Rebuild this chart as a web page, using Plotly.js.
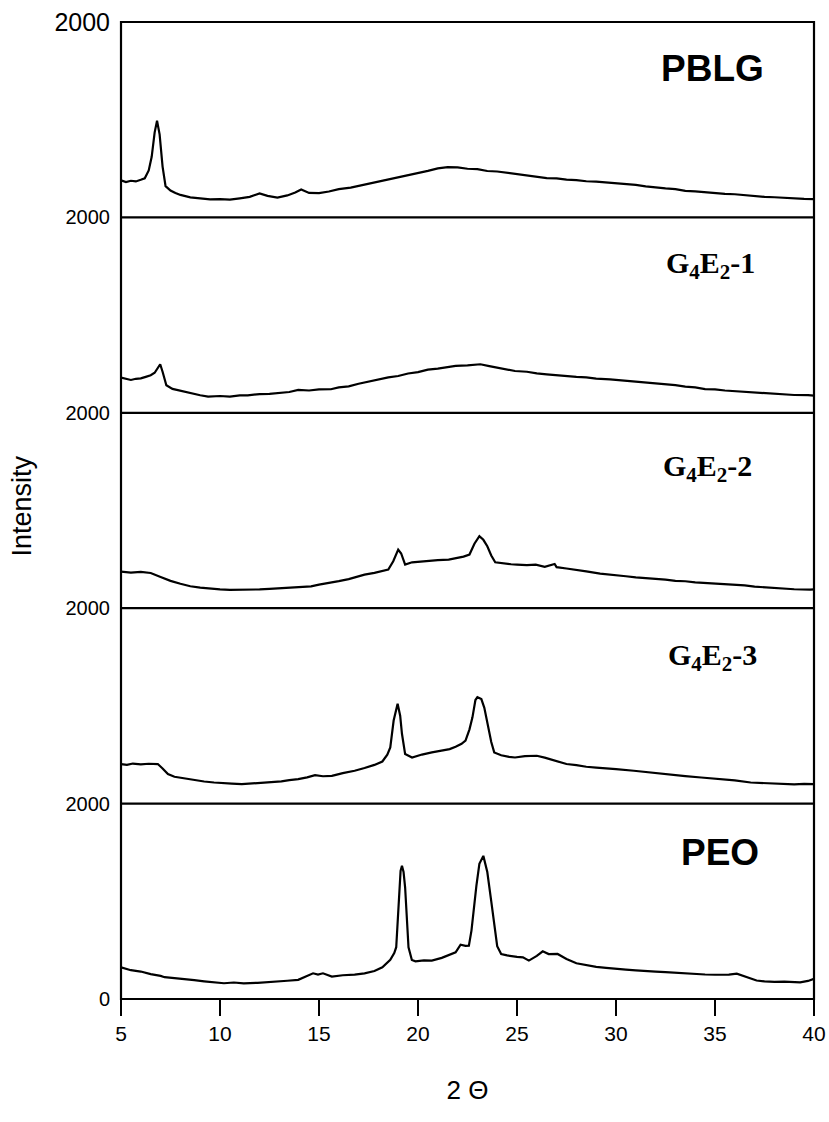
<!DOCTYPE html>
<html>
<head>
<meta charset="utf-8">
<script src="https://cdn.plot.ly/plotly-3.0.1.min.js"></script>
<style>html,body{margin:0;padding:0;background:#fff;}#chart{width:829px;height:1122px;}</style>
</head>
<body>
<div id="chart"></div>
<script>
// ---- data (2 theta vs intensity, each panel 0..2000) ----
const xTicks = [5, 10, 15, 20, 25, 30, 35, 40];
const seriesNames = ["PBLG", "G<sub>4</sub>E<sub>2</sub>-1", "G<sub>4</sub>E<sub>2</sub>-2", "G<sub>4</sub>E<sub>2</sub>-3", "PEO"];

const pblgX = [5.0,5.25,5.5,5.75,6.0,6.2,6.4,6.55,6.7,6.82,6.95,7.1,7.25,7.5,7.75,8.0,8.5,9.0,9.5,10.0,10.5,11.0,11.5,12.0,12.4,12.9,13.4,13.8,14.1,14.5,15.0,15.5,16.0,16.6,17.0,17.5,18.0,18.5,19.0,19.5,20.0,20.5,21.0,21.5,22.0,22.5,23.0,23.5,24.0,24.6,25.0,25.5,26.0,26.5,27.0,27.5,28.0,28.5,29.0,29.7,30.0,30.5,31.0,31.5,32.0,32.5,33.0,33.5,34.0,34.5,35.0,35.5,36.0,36.5,37.0,37.5,38.0,38.5,39.0,39.5,40.0];
const pblgY = [380,362,375,368,385,400,480,620,870,990,850,520,320,275,250,230,205,192,185,188,182,195,210,245,220,203,225,255,285,250,248,265,290,305,322,345,370,392,410,432,455,476,502,515,512,498,494,475,470,455,442,426,420,403,400,386,382,370,366,355,350,336,332,318,306,297,290,271,266,256,251,240,237,226,221,210,206,198,197,189,188];

const g1X = [5.0,5.25,5.5,5.75,6.0,6.25,6.5,6.7,6.85,6.98,7.1,7.29,7.6,8.0,8.2,8.6,9.0,9.4,10.0,10.5,11.0,11.4,12.0,12.5,13.0,13.5,13.95,14.5,15.0,15.6,16.0,16.5,17.0,17.3,17.8,18.5,19.0,19.5,20.0,20.5,21.0,21.5,21.9,22.5,23.15,23.6,24.0,24.5,24.9,25.5,26.0,26.5,27.0,27.5,28.0,28.5,29.0,29.7,30.0,30.5,31.0,31.5,32.0,32.5,33.0,33.5,34.0,34.5,35.0,35.5,35.9,36.5,37.0,37.5,38.0,38.5,39.0,39.7,40.0];
const g1Y = [360,345,336,348,352,368,384,410,460,497,420,282,245,225,213,195,180,166,172,166,178,179,192,194,207,213,234,228,240,241,260,270,297,310,338,362,377,402,416,442,453,467,480,486,497,478,462,443,428,420,403,394,383,378,368,362,350,343,338,323,320,308,302,290,284,268,260,243,240,228,223,214,203,200,190,188,182,180,176];

const g2X = [5.0,5.5,6.0,6.5,7.0,7.5,8.0,8.5,9.0,9.5,10.0,10.5,11.0,11.5,12.0,12.5,13.0,13.5,14.0,14.6,15.0,15.5,16.0,16.5,17.0,17.3,17.8,18.2,18.5,18.75,19.0,19.15,19.35,19.7,20.0,20.5,21.0,21.55,22.0,22.3,22.6,22.85,23.1,23.3,23.5,23.7,23.9,24.3,24.7,25.0,25.5,25.95,26.4,26.9,27.0,27.5,28.0,28.5,29.2,29.7,30.0,30.5,31.0,31.5,32.0,32.5,33.0,33.5,34.0,34.5,35.0,35.9,36.5,37.0,37.5,38.0,38.5,39.0,39.8,40.0];
const g2Y = [375,365,372,360,320,280,250,225,210,200,192,188,190,185,192,198,203,212,218,224,242,256,277,298,327,344,362,378,395,480,600,560,446,470,476,484,492,498,512,528,549,660,737,700,634,540,470,457,450,446,440,446,424,453,420,406,388,377,354,346,337,327,316,310,298,293,280,276,264,259,249,241,233,221,214,204,201,194,190,192];

const g3X = [5.0,5.3,5.6,6.0,6.4,6.86,7.1,7.37,7.7,8.2,8.7,9.2,9.7,10.2,10.6,11.1,11.6,12.1,12.6,13.1,13.5,13.95,14.4,14.8,15.2,15.65,16.2,16.8,17.3,17.8,18.2,18.45,18.6,18.77,18.97,19.1,19.19,19.35,19.7,20.2,20.7,21.2,21.6,21.9,22.2,22.4,22.6,22.75,22.9,23.0,23.2,23.35,23.5,23.7,23.85,24.2,24.6,24.9,25.4,26.0,26.4,26.9,27.5,28.0,28.5,29.0,29.5,30.0,30.9,31.5,32.0,32.5,33.0,33.5,34.3,35.0,35.5,36.0,36.8,37.5,38.0,38.5,39.0,39.5,39.9,40.0];
const g3Y = [405,396,410,402,408,405,360,302,275,257,241,226,216,207,205,199,206,209,219,227,240,250,268,291,280,284,312,336,364,396,431,500,575,850,1021,900,715,507,472,502,524,546,558,582,612,644,760,883,1060,1089,1070,980,815,630,524,495,478,472,486,490,470,440,405,393,377,369,358,352,336,323,309,301,289,281,267,256,249,238,216,209,204,203,197,201,199,200];

const peoX = [5.0,5.2,5.5,6.0,6.5,7.0,7.2,7.7,8.2,8.7,9.2,9.7,10.2,10.7,11.2,11.9,12.4,12.9,13.4,13.95,14.3,14.7,14.95,15.2,15.65,16.2,16.8,17.3,17.8,18.2,18.6,18.8,18.9,19.05,19.12,19.19,19.27,19.35,19.45,19.52,19.69,19.87,20.3,20.7,21.2,21.6,21.9,22.15,22.4,22.57,22.7,22.95,23.1,23.3,23.5,23.7,23.85,24.0,24.2,24.5,25.0,25.3,25.6,26.0,26.3,26.6,27.05,27.5,28.0,28.5,29.0,29.5,30.0,30.5,31.0,31.5,32.0,32.5,33.0,33.5,34.0,34.5,35.0,35.7,36.1,36.4,36.8,37.1,37.5,38.0,38.5,39.0,39.3,39.7,40.0];
const peoY = [325,312,295,281,254,236,223,214,206,193,181,170,161,169,160,166,171,182,187,196,226,263,250,263,230,243,249,263,286,325,400,470,530,1000,1312,1363,1300,1141,800,529,400,386,396,393,421,454,478,556,544,546,700,1160,1384,1465,1300,1000,780,540,461,446,431,427,393,441,488,460,461,410,366,346,329,319,308,301,294,291,281,275,268,262,259,251,248,250,260,240,210,189,181,175,178,171,170,185,206];

const panelX = [pblgX, g1X, g2X, g3X, peoX];
const panelY = [pblgY, g1Y, g2Y, g3Y, peoY];

// ---- figure ----
const traces = panelX.map((xs, i) => ({
  x: xs, y: panelY[i], type: "scatter", mode: "lines",
  xaxis: "x", yaxis: i === 0 ? "y" : "y" + (i + 1),
  line: {color: "#000", width: 2.2}, hoverinfo: "skip", showlegend: false
}));

const sans = "Arial, 'Liberation Sans', sans-serif";
const serif = "'Times New Roman', 'Liberation Serif', serif";

const layout = {
  width: 829, height: 1122,
  margin: {l: 121, r: 15, t: 22, b: 123},
  paper_bgcolor: "#fff", plot_bgcolor: "#fff",
  showlegend: false,
  font: {family: sans, color: "#000"},
  xaxis: {
    range: [5, 40], anchor: "y5", tickmode: "array", tickvals: xTicks,
    ticks: "outside", ticklen: 16, tickwidth: 1.6, tickcolor: "#000",
    showgrid: false, zeroline: false, showline: false,
    tickfont: {family: sans, size: 21, color: "#000"},
    title: {text: "2 \u0398", font: {family: sans, size: 26, color: "#000"}, standoff: 36}
  },
  shapes: [],
  annotations: []
};

for (let i = 0; i < 5; i++) {
  const key = i === 0 ? "yaxis" : "yaxis" + (i + 1);
  const lo = (4 - i) * 0.2, hi = lo + 0.2;
  layout[key] = {
    domain: [lo, hi], range: [0, 2000], anchor: "x",
    tickmode: "array", tickvals: i === 4 ? [0, 2000] : [2000],
    ticktext: i === 4 ? ["0", "2000"] : ["2000"],
    ticks: "", ticklabelstandoff: 10,
    showgrid: false, zeroline: false, showline: false,
    tickfont: {family: sans, size: i === 0 ? 25 : 20, color: "#000"}
  };
}

// frame and panel dividers
layout.shapes.push({type: "rect", xref: "paper", yref: "paper", x0: 0, x1: 1, y0: 0, y1: 1,
  line: {color: "#000", width: 2.2}});
[0.2, 0.4, 0.6, 0.8].forEach(v => layout.shapes.push({
  type: "line", xref: "paper", yref: "paper", x0: 0, x1: 1, y0: v, y1: v,
  line: {color: "#000", width: 2.2}}));

// panel labels
const labelPos = [[0.853, 0.952], [0.850, 0.751], [0.846, 0.544], [0.853, 0.350], [0.865, 0.150]];
const labelFonts = [
  {family: sans, size: 37, color: "#000", weight: "bold"},
  {family: serif, size: 30, color: "#000", weight: "bold"},
  {family: serif, size: 30, color: "#000", weight: "bold"},
  {family: serif, size: 30, color: "#000", weight: "bold"},
  {family: sans, size: 37, color: "#000", weight: "bold"}
];
seriesNames.forEach((name, i) => layout.annotations.push({
  text: "<b>" + name + "</b>", xref: "paper", yref: "paper",
  x: labelPos[i][0], y: labelPos[i][1], xanchor: "center", yanchor: "middle",
  showarrow: false, font: labelFonts[i]
}));

// y title
layout.annotations.push({
  text: "Intensity", xref: "paper", yref: "paper", x: -0.143, y: 0.505,
  xanchor: "center", yanchor: "middle", textangle: -90, showarrow: false,
  font: {family: sans, size: 27, color: "#000"}
});

Plotly.newPlot("chart", traces, layout, {displayModeBar: false, staticPlot: true});
</script>
</body>
</html>
